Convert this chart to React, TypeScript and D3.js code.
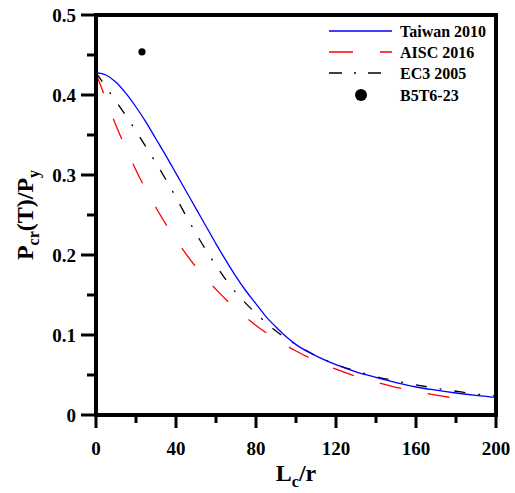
import React from "react";
import * as d3 from "d3";

// ---- Data ----
const taiwanX = [0, 5, 10, 15, 20, 25, 30, 35, 40, 45, 50, 55, 60, 65, 70, 75, 80, 85, 90, 95, 100, 110, 120, 130, 140, 150, 160, 170, 180, 190, 200];
const taiwanY = [0.428, 0.425, 0.416, 0.402, 0.385, 0.366, 0.345, 0.324, 0.302, 0.28, 0.258, 0.236, 0.214, 0.193, 0.173, 0.155, 0.139, 0.123, 0.11, 0.098, 0.088, 0.074, 0.063, 0.054, 0.047, 0.0405, 0.035, 0.031, 0.0275, 0.0245, 0.022];

const aiscX = [0, 1, 2, 5, 10, 15, 20, 30, 40, 50, 60, 70, 80, 90, 100, 110, 120, 130, 140, 150, 160, 170, 180, 187];
const aiscY = [0.428, 0.42, 0.414, 0.394, 0.362, 0.333, 0.306, 0.259, 0.219, 0.185, 0.157, 0.1325, 0.112, 0.0947, 0.08, 0.0677, 0.0573, 0.0484, 0.041, 0.0346, 0.0293, 0.0248, 0.021, 0.0187];

const ec3X = [0, 5, 10, 15, 20, 25, 30, 35, 40, 45, 50, 55, 60, 65, 70, 80, 90, 100, 110, 120, 130, 140, 150, 160, 170, 180, 190, 200];
const ec3Y = [0.428, 0.41, 0.392, 0.374, 0.355, 0.335, 0.315, 0.294, 0.272, 0.249, 0.227, 0.206, 0.187, 0.169, 0.153, 0.127, 0.105, 0.088, 0.074, 0.063, 0.055, 0.048, 0.0425, 0.0377, 0.0334, 0.0297, 0.0262, 0.0238];

const testX = [23];
const testY = [0.454];

const xTicks = [0, 40, 80, 120, 160, 200];
const xMinorTicks = [20, 60, 100, 140, 180];
const yTicks = [0, 0.1, 0.2, 0.3, 0.4, 0.5];
const yMinorTicks = [0.05, 0.15, 0.25, 0.35, 0.45];

const legendLabels = ["Taiwan 2010", "AISC 2016", "EC3 2005", "B5T6-23"];

// ---- Layout ----
const W = 515;
const H = 493;
const left = 96;
const right = 496;
const top = 15;
const bottom = 415;
const LW = 4;
const TW = 3;
const FONT = "Liberation Serif";

export default function App() {
  const x = d3.scaleLinear().domain([0, 200]).range([left, right]);
  const y = d3.scaleLinear().domain([0, 0.5]).range([bottom, top]);

  const line = d3
    .line<[number, number]>()
    .x((d) => x(d[0]))
    .y((d) => y(d[1]))
    .curve(d3.curveMonotoneX);

  const taiwan = line(taiwanX.map((v, i) => [v, taiwanY[i]]) as [number, number][]) || "";
  const aisc = line(aiscX.map((v, i) => [v, aiscY[i]]) as [number, number][]) || "";
  const ec3 = line(ec3X.map((v, i) => [v, ec3Y[i]]) as [number, number][]) || "";

  const lx1 = 329;
  const lx2 = 392;
  const ltx = 400;
  const lrows = [31, 52, 73, 95];

  return (
    <svg width={W} height={H} style={{ position: "absolute", left: 0, top: 0, background: "#fff" }}>
      <path d={ec3} fill="none" stroke="#000" strokeWidth={1.3} strokeDasharray="11 13 2 13" />
      <path d={aisc} fill="none" stroke="#ff0000" strokeWidth={1.3} strokeDasharray="22 27" />
      <path d={taiwan} fill="none" stroke="#0000ff" strokeWidth={1.3} />
      {testX.map((v, i) => (
        <circle key={i} cx={x(v)} cy={y(testY[i])} r={3.6} fill="#000" />
      ))}

      {/* frame */}
      <rect x={left - 2} y={top - 2} width={404} height={LW} fill="#000" />
      <rect x={left - 2} y={bottom - 2} width={404} height={LW} fill="#000" />
      <rect x={left - 2} y={top - 2} width={LW} height={404} fill="#000" />
      <rect x={right - 2} y={top - 2} width={LW} height={404} fill="#000" />

      {/* ticks */}
      {yTicks.map((t) => (
        <rect key={"yt" + t} x={left - 15} y={Math.round(y(t)) - 1.5} width={15} height={TW} fill="#000" />
      ))}
      {yMinorTicks.map((t) => (
        <rect key={"ym" + t} x={left - 9} y={Math.round(y(t)) - 1.5} width={9} height={TW} fill="#000" />
      ))}
      {xTicks.map((t) => (
        <rect key={"xt" + t} x={Math.round(x(t)) - 1.5} y={bottom} width={TW} height={13} fill="#000" />
      ))}
      {xMinorTicks.map((t) => (
        <rect key={"xm" + t} x={Math.round(x(t)) - 1.5} y={bottom} width={TW} height={8} fill="#000" />
      ))}

      {yTicks.map((t) => (
        <text key={"y" + t} x={left - 20} y={y(t) + 6.5} textAnchor="end" fontSize={19} fontFamily={FONT} fontWeight="bold">
          {t === 0 ? "0" : d3.format(".1f")(t)}
        </text>
      ))}
      {xTicks.map((t) => (
        <text key={"x" + t} x={x(t)} y={455} textAnchor="middle" fontSize={19} fontFamily={FONT} fontWeight="bold">
          {t}
        </text>
      ))}

      {/* axis titles */}
      <text x={(left + right) / 2} y={481} textAnchor="middle" fontSize={24} fontFamily={FONT} fontWeight="bold">
        L<tspan fontSize={16} dy={6}>c</tspan>
        <tspan dy={-6}>/r</tspan>
      </text>
      <text
        transform={`translate(33,${(top + bottom) / 2}) rotate(-90)`}
        textAnchor="middle"
        fontSize={24}
        fontFamily={FONT}
        fontWeight="bold"
      >
        P<tspan fontSize={16} dy={6}>cr</tspan>
        <tspan dy={-6}>(T)/P</tspan>
        <tspan fontSize={16} dy={6}>y</tspan>
      </text>

      {/* legend */}
      <line x1={lx1} x2={lx2} y1={lrows[0]} y2={lrows[0]} stroke="#0000ff" strokeWidth={1.3} />
      <line x1={lx1} x2={lx2} y1={lrows[1]} y2={lrows[1]} stroke="#ff0000" strokeWidth={1.3} strokeDasharray="24 27" />
      <line x1={lx1} x2={lx2} y1={lrows[2]} y2={lrows[2]} stroke="#000" strokeWidth={1.3} strokeDasharray="13 12 2 12" />
      <circle cx={361} cy={lrows[3]} r={6} fill="#000" />
      {legendLabels.map((l, i) => (
        <text key={l} x={ltx} y={lrows[i] + 5.5} fontSize={16} fontFamily={FONT} fontWeight="bold">
          {l}
        </text>
      ))}
    </svg>
  );
}
